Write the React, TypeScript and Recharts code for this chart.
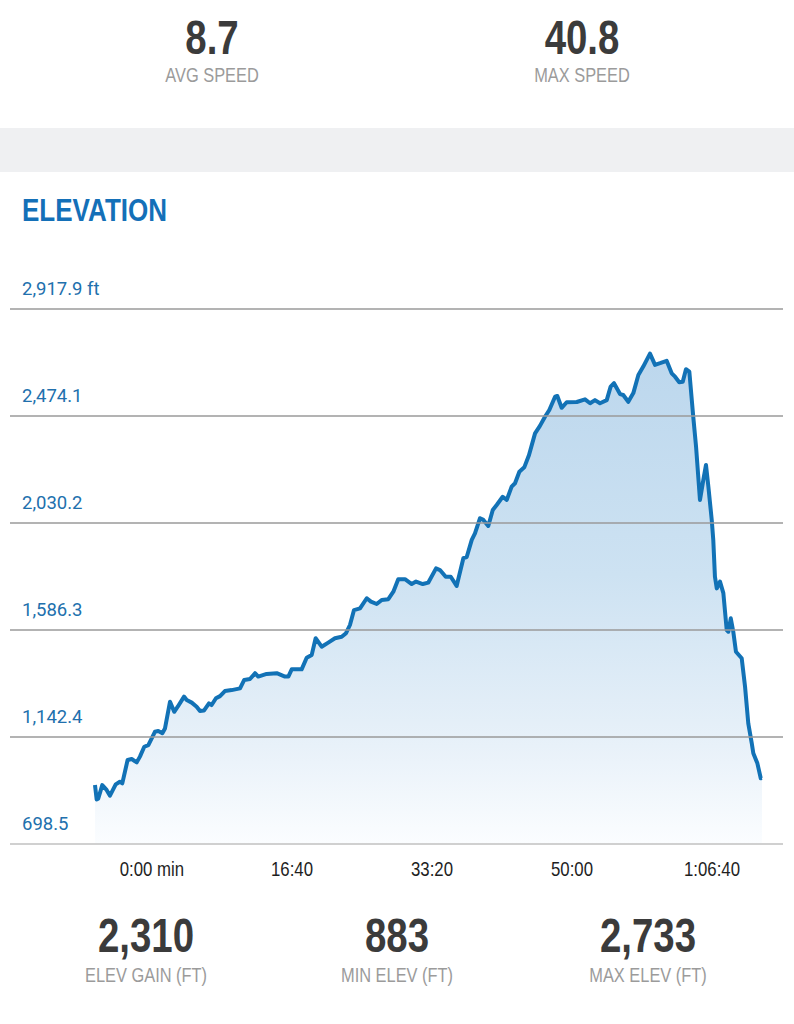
import React from "react";
import { AreaChart, Area, XAxis, YAxis, ReferenceLine } from "recharts";

// ---- data (time in seconds, elevation in feet) ----
const timeSec = [
  -407, -395, -384, -355, -324, -300, -259, -229, -212, -174, -145, -109, -86, -55, -26,
  21, 45, 74, 93, 129, 159, 184, 229, 248, 284, 319, 343, 371, 407, 426, 457, 486, 521,
  569, 629, 659, 700, 736, 759, 819, 891, 950, 974, 998, 1069, 1105, 1141, 1169, 1212,
  1259, 1307, 1355, 1386, 1414, 1443, 1486, 1534, 1564, 1605, 1641, 1688, 1724, 1759,
  1807, 1855, 1886, 1934, 1974, 2029, 2057, 2098, 2134, 2176, 2224, 2248, 2284, 2307,
  2343, 2367, 2402, 2434, 2462, 2505, 2534, 2569, 2593, 2624, 2659, 2693, 2736, 2771,
  2807, 2838, 2879, 2895, 2926, 2962, 3034, 3093, 3129, 3164, 3200, 3248, 3276, 3300,
  3343, 3366, 3402, 3438, 3474, 3509, 3557, 3593, 3629, 3676, 3712, 3736, 3766, 3791,
  3814, 3838, 3866, 3886, 3914, 3938, 3957, 3974, 3998, 4009, 4021, 4034, 4057, 4081,
  4105, 4117, 4134, 4152, 4171, 4212, 4236, 4259, 4284, 4295, 4324, 4348, 4357,
];
const elevFt = [
  943, 883, 886, 943, 923, 899, 946, 957, 950, 1047, 1051, 1037, 1061, 1102, 1109,
  1164, 1167, 1158, 1178, 1289, 1247, 1268, 1310, 1296, 1285, 1268, 1250, 1252, 1282, 1275, 1303, 1312, 1333,
  1337, 1344, 1379, 1383, 1407, 1393, 1404, 1407, 1393, 1393, 1423, 1423, 1471, 1483, 1552, 1517,
  1534, 1552, 1558, 1573, 1607, 1669, 1676, 1718, 1704, 1694, 1711, 1714, 1745, 1797,
  1797, 1777, 1787, 1777, 1783, 1842, 1835, 1807, 1807, 1769, 1884, 1889, 1960, 1987,
  2050, 2043, 2018, 2084, 2105, 2139, 2126, 2181, 2195, 2243, 2261, 2312, 2402, 2433,
  2471, 2499, 2554, 2557, 2508, 2531, 2532, 2543, 2527, 2540, 2527, 2540, 2596, 2610,
  2565, 2561, 2533, 2569, 2644, 2679, 2733, 2686, 2693, 2703, 2651, 2637, 2614, 2616,
  2668, 2658, 2471, 2347, 2126, 2209, 2271, 2181, 2043, 1960, 1807, 1759, 1787, 1739,
  1586, 1579, 1635, 1579, 1496, 1469, 1351, 1199, 1116, 1075, 1033, 971, 972,
];

const xTicks = [0, 1000, 2000, 3000, 4000];
const xTickLabels = ["0:00 min", "16:40", "33:20", "50:00", "1:06:40"];
const yTicks = [698.5, 1142.38, 1586.26, 2030.14, 2474.02, 2917.9];
const yTickLabels = ["698.5", "1,142.4", "1,586.3", "2,030.2", "2,474.1", "2,917.9 ft"];

const topStatValues = ["8.7", "40.8"];
const topStatLabels = ["AVG SPEED", "MAX SPEED"];
const bottomStatValues = ["2,310", "883", "2,733"];
const bottomStatLabels = ["ELEV GAIN (FT)", "MIN ELEV (FT)", "MAX ELEV (FT)"];
const chartTitle = "ELEVATION";

const data = timeSec.map((t, i) => ({ t, elev: elevFt[i] }));

const SANS = "'Liberation Sans', Arial, sans-serif";
const BLUE = "#1272b6";
const SX = 0.8;
const CHART_TOP = 250;

const NText = (p: any) => (
  <text
    transform={`translate(${p.x},${p.y}) scale(${p.sx ?? SX},1)`}
    x={0}
    y={0}
    textAnchor={p.anchor ?? "middle"}
    fontFamily={SANS}
    fontWeight={p.bold ? "bold" : "normal"}
    fontSize={p.size}
    fill={p.fill}
  >
    {p.children}
  </text>
);

const XTick = (props: any) => {
  const { x, index } = props;
  return (
    <NText x={x} y={876 - CHART_TOP} size={20} fill="#1e1e1e" sx={0.84}>
      {xTickLabels[index]}
    </NText>
  );
};

const yLabel = (i: number) => (props: any) => {
  const vb = props.viewBox || {};
  return (
    <text x={22} y={vb.y - 14} fill="#2170ad" fontFamily="Roboto, sans-serif" fontSize={18.5} textAnchor="start">
      {yTickLabels[i]}
    </text>
  );
};

const topCenters = [212, 582];
const bottomCenters = [146, 397, 648];

export default function App() {
  return (
    <div style={{ position: "absolute", left: 0, top: 0, width: 794, height: 1024, background: "#ffffff", overflow: "hidden" }}>
      <svg width={794} height={1024} style={{ position: "absolute", left: 0, top: 0 }}>
        <rect x={0} y={128} width={794} height={44} fill="#eff0f2" />
        {topStatValues.map((v, i) => (
          <NText key={"tv" + i} x={topCenters[i]} y={54} size={48} bold fill="#3b3b3b">
            {v}
          </NText>
        ))}
        {topStatLabels.map((v, i) => (
          <NText key={"tl" + i} x={topCenters[i]} y={82} size={20.5} fill="#9b9b9b">
            {v}
          </NText>
        ))}
        <NText x={22} y={221} anchor="start" size={31} bold fill="#1470b8" sx={0.84}>
          {chartTitle}
        </NText>
        {bottomStatValues.map((v, i) => (
          <NText key={"bv" + i} x={bottomCenters[i]} y={952} size={48} bold fill="#3b3b3b">
            {v}
          </NText>
        ))}
        {bottomStatLabels.map((v, i) => (
          <NText key={"bl" + i} x={bottomCenters[i]} y={982} size={20.5} fill="#9b9b9b">
            {v}
          </NText>
        ))}
      </svg>
      <div style={{ position: "absolute", left: 0, top: CHART_TOP }}>
        <AreaChart width={794} height={650} data={data} margin={{ top: 59, right: 11, bottom: 0, left: 10 }}>
          <defs>
            <linearGradient id="elevFill" x1="0" y1="0" x2="0" y2="1">
              <stop offset="0%" stopColor="#bcd7ed" />
              <stop offset="45%" stopColor="#cde2f2" />
              <stop offset="80%" stopColor="#e8f1f9" />
              <stop offset="100%" stopColor="#fbfdff" />
            </linearGradient>
          </defs>
          <XAxis
            dataKey="t"
            type="number"
            domain={[-1014, 4507]}
            ticks={xTicks}
            axisLine={false}
            tickLine={false}
            height={56}
            tick={<XTick />}
            interval={0}
            allowDataOverflow
          />
          <YAxis type="number" domain={[698.5, 2917.9]} ticks={yTicks} hide allowDataOverflow />
          {yTicks.map((v, i) => (
            <ReferenceLine
              key={"g" + i}
              y={v}
              stroke={i === 0 ? "#d0d0d0" : "#9a9a9a"}
              strokeWidth={i === 0 ? 2 : 1.5}
              label={yLabel(i)}
            />
          ))}
          <Area
            type="linear"
            dataKey="elev"
            stroke={BLUE}
            strokeWidth={4}
            strokeLinejoin="round"
            fill="url(#elevFill)"
            fillOpacity={1}
            dot={false}
            activeDot={false}
            isAnimationActive={false}
          />
        </AreaChart>
      </div>
    </div>
  );
}
